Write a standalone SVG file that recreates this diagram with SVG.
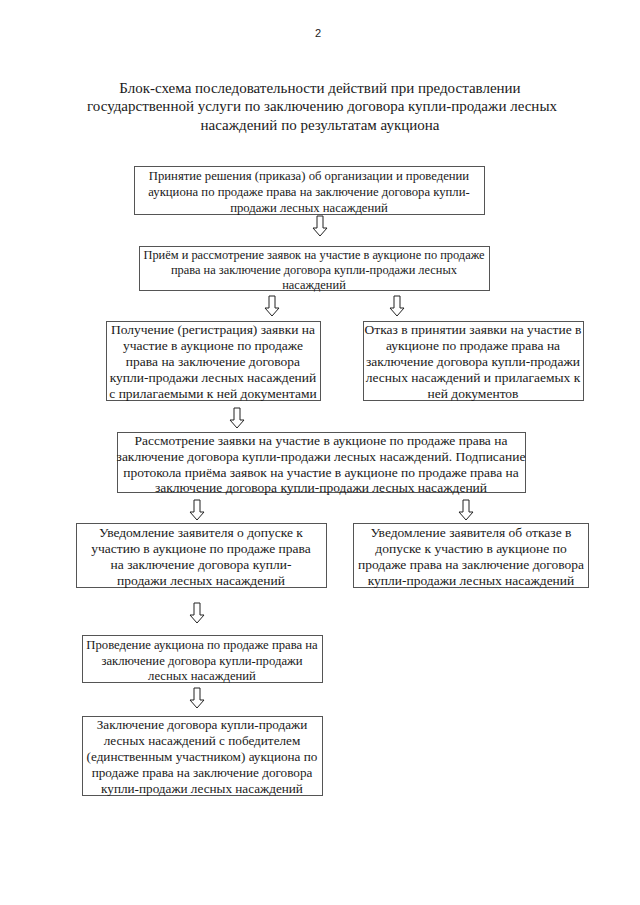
<svg xmlns="http://www.w3.org/2000/svg" width="640" height="905" viewBox="0 0 640 905" font-family="Liberation Serif">
<style>
text{fill:#1a1a1a;text-anchor:middle}
.box{fill:#fff;stroke:#555;stroke-width:1}
.arr{fill:#fff;stroke:#222;stroke-width:1}
</style>
<defs>
<path id="ar" d="M-3,0 H3 V12 H7 L0,20 L-7,12 H-3 Z"/>
</defs>
<rect width="640" height="905" fill="#fff"/>
<text x="318" y="37" font-family="Liberation Sans" font-size="11">2</text>
<g id="title" font-family="Liberation Serif" font-size="15">
<text x="320" y="93">Блок-схема последовательности действий при предоставлении</text>
<text x="322" y="111">государственной услуги по заключению договора купли-продажи лесных</text>
<text x="320" y="130">насаждений по результатам аукциона</text>
</g>
<g id="n1" font-family="Liberation Serif" font-size="12.7">
<rect class="box" x="134.5" y="166.5" width="350" height="48"/>
<text x="309" y="180">Принятие решения (приказа) об организации и проведении</text>
<text x="309" y="196">аукциона по продаже права на заключение договора купли-</text>
<text x="309" y="212">продажи лесных насаждений</text>
</g>
<g id="n2" font-family="Liberation Serif" font-size="12.4">
<rect class="box" x="139.5" y="246.5" width="350" height="44"/>
<text x="314" y="259">Приём и рассмотрение заявок на участие в аукционе по продаже</text>
<text x="314" y="274">права на заключение договора купли-продажи лесных</text>
<text x="314" y="289">насаждений</text>
</g>
<g id="n3" font-family="Liberation Serif" font-size="13.5">
<rect class="box" x="106.5" y="321.5" width="214" height="79"/>
<text x="213" y="334">Получение (регистрация) заявки на</text>
<text x="213" y="350">участие в аукционе по продаже</text>
<text x="213" y="366">права на заключение договора</text>
<text x="213" y="382">купли-продажи лесных насаждений</text>
<text x="213" y="398">с прилагаемыми к ней документами</text>
</g>
<g id="n4" font-family="Liberation Serif" font-size="13.5">
<rect class="box" x="363.5" y="321.5" width="220" height="79"/>
<text x="473" y="334">Отказ в принятии заявки на участие в</text>
<text x="473" y="350">аукционе по продаже права на</text>
<text x="473" y="366">заключение договора купли-продажи</text>
<text x="473" y="382">лесных насаждений и прилагаемых к</text>
<text x="473" y="398">ней документов</text>
</g>
<g id="n5" font-family="Liberation Serif" font-size="13.5">
<rect class="box" x="117.5" y="432.5" width="408" height="60"/>
<text x="321" y="445">Рассмотрение заявки на участие в аукционе по продаже права на</text>
<text x="321" y="461">заключение договора купли-продажи лесных насаждений. Подписание</text>
<text x="321" y="477">протокола приёма заявок на участие в аукционе по продаже права на</text>
<text x="321" y="492">заключение договора купли-продажи лесных насаждений</text>
</g>
<g id="n6" font-family="Liberation Serif" font-size="13.5">
<rect class="box" x="76.5" y="523.5" width="250" height="64"/>
<text x="201" y="537">Уведомление заявителя о допуске к</text>
<text x="201" y="553">участию в аукционе по продаже права</text>
<text x="201" y="569">на заключение договора купли-</text>
<text x="201" y="585">продажи лесных насаждений</text>
</g>
<g id="n7" font-family="Liberation Serif" font-size="13.5">
<rect class="box" x="353.5" y="523.5" width="235" height="64"/>
<text x="471" y="537">Уведомление заявителя об отказе в</text>
<text x="471" y="553">допуске к участию в аукционе по</text>
<text x="471" y="569">продаже права на заключение договора</text>
<text x="471" y="585">купли-продажи лесных насаждений</text>
</g>
<g id="n8" font-family="Liberation Serif" font-size="12.7">
<rect class="box" x="82.5" y="635.5" width="240" height="47"/>
<text x="202" y="649">Проведение аукциона по продаже права на</text>
<text x="202" y="665">заключение договора купли-продажи</text>
<text x="202" y="680">лесных насаждений</text>
</g>
<g id="n9" font-family="Liberation Serif" font-size="13.2">
<rect class="box" x="82.5" y="716.5" width="240" height="79"/>
<text x="202" y="729">Заключение договора купли-продажи</text>
<text x="202" y="745">лесных насаждений с победителем</text>
<text x="202" y="761">(единственным участником) аукциона по</text>
<text x="202" y="777">продаже права на заключение договора</text>
<text x="202" y="793">купли-продажи лесных насаждений</text>
</g>
<g id="connectors" class="arr">
<use href="#ar" x="320" y="216"/>
<use href="#ar" x="272" y="296"/>
<use href="#ar" x="397" y="296"/>
<use href="#ar" x="237" y="408"/>
<use href="#ar" x="197" y="500"/>
<use href="#ar" x="466" y="500"/>
<use href="#ar" x="197" y="603"/>
<use href="#ar" x="197" y="688"/>
</g>
</svg>
